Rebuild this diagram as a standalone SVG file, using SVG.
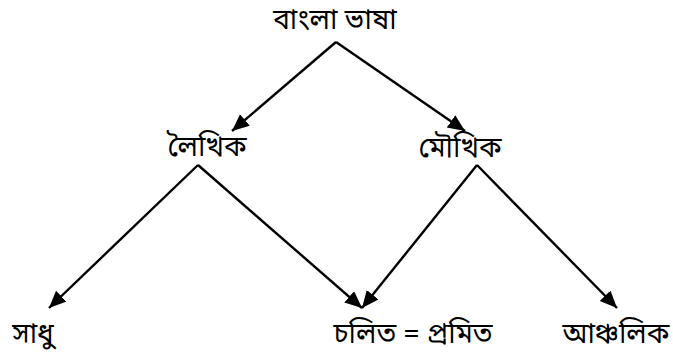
<svg xmlns="http://www.w3.org/2000/svg" width="673" height="356" viewBox="0 0 673 356">
<defs>
<style>
text{font-family:"Noto Sans Bengali","Lohit Bengali","Noto Serif Bengali","Noto Sans",sans-serif;font-size:28px;fill:#000;text-anchor:middle}
.c line{stroke:#000;stroke-width:2.4;marker-end:url(#ah)}
</style>
<marker id="ah" markerUnits="userSpaceOnUse" markerWidth="18" markerHeight="16" refX="17" refY="7.5" orient="auto"><path d="M0,0 L17,7.5 L0,15 z" fill="#000"/></marker>
</defs>
<rect width="673" height="356" fill="#fff"/>
<g class="c" id="connectors">
<line x1="336" y1="42" x2="232" y2="131"/>
<line x1="336" y1="42" x2="465" y2="131"/>
<line x1="198" y1="165" x2="49" y2="308"/>
<line x1="198" y1="165" x2="362" y2="308"/>
<line x1="477" y1="165" x2="362" y2="308"/>
<line x1="477" y1="165" x2="617" y2="308"/>
</g>
<g id="bangla"><text x="335" y="29">বাংলা ভাষা</text></g>
<g id="likhito"><text x="207" y="156">লৈখিক</text></g>
<g id="moukhik"><text x="460" y="157">মৌখিক</text></g>
<g id="sadhu"><text x="33" y="343">সাধু</text></g>
<g id="cholito"><text x="413" y="343">চলিত = প্রমিত</text></g>
<g id="anchalik"><text x="616" y="343">আঞ্চলিক</text></g>
</svg>
